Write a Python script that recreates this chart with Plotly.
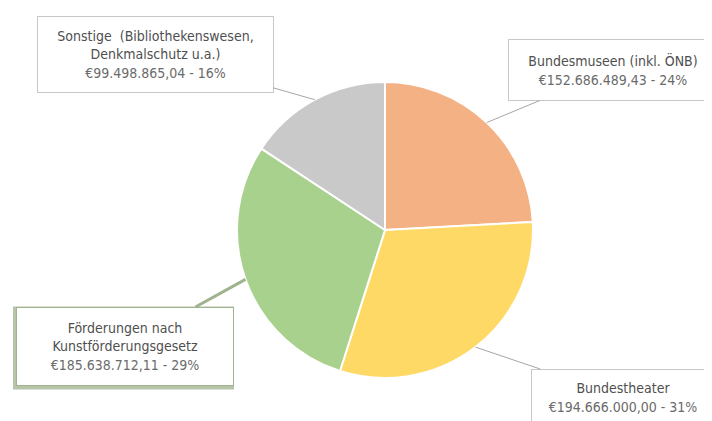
import math
import plotly.graph_objects as go

# ---- data ----
labels = ["Bundesmuseen (inkl. ÖNB)", "Bundestheater",
          "Förderungen nach Kunstförderungsgesetz",
          "Sonstige (Bibliothekenswesen, Denkmalschutz u.a.)"]
label_lines = ["Bundesmuseen (inkl. ÖNB)", "Bundestheater",
               "Förderungen nach<br>Kunstförderungsgesetz",
               "Sonstige\u00a0 (Bibliothekenswesen,<br>Denkmalschutz u.a.)"]
values = [152686489.43, 194666000.00, 185638712.11, 99498865.04]
colors = ["#F4B183", "#FFD966", "#A9D18E", "#C9C9C9"]

W, H = 712, 421
# pie geometry in pixels (page body has an 8px margin)
cx, cy, R = 377, 222, 148

# callout box centers (px) and sizes
box_cx = [605, 615, 117, 147]
box_cy = [62, 389, 338, 46]
box_w = [208, 182, 216, 235]
box_h = [60, 55, 77, 75]


def de_fmt(v):
    s = f"{v:,.2f}"
    return s.replace(",", "X").replace(".", ",").replace("X", ".")


total = sum(values)
fig = go.Figure()
fig.add_trace(go.Pie(
    labels=labels, values=values, sort=False, direction="clockwise", rotation=0,
    marker=dict(colors=colors, line=dict(color="white", width=2)),
    textinfo="none", showlegend=False, hoverinfo="label+value+percent",
    domain=dict(x=[(cx - R) / W, (cx + R) / W], y=[1 - (cy + R) / H, 1 - (cy - R) / H]),
))

annotations = []
shapes = []
cum = 0.0
for i, v in enumerate(values):
    mid = (cum + v / 2) / total * 2 * math.pi
    cum += v
    px = cx + R * math.sin(mid)
    py = cy - R * math.cos(mid)
    pct = round(v / total * 100)
    text = (f"{label_lines[i]}<br><span style='color:#6b6b6b'>€{de_fmt(v)} - {pct}%</span>")
    green = (i == 2)
    if green:
        # soft shadow behind the box
        x0 = box_cx[i] - box_w[i] / 2 - 4
        x1 = box_cx[i] + box_w[i] / 2 + 1
        y0 = box_cy[i] - box_h[i] / 2 - 1
        y1 = box_cy[i] + box_h[i] / 2 + 5
        shapes.append(dict(type="rect", xref="paper", yref="paper",
                           x0=x0 / W, x1=x1 / W, y0=1 - y1 / H, y1=1 - y0 / H,
                           fillcolor="#B7C4AA", line=dict(width=0), layer="below"))
    annotations.append(dict(
        x=px / W, y=1 - py / H, xref="paper", yref="paper",
        ax=box_cx[i] - px, ay=box_cy[i] - py,
        text=text, showarrow=True, arrowhead=0,
        arrowcolor="#9FB48E" if green else "#A6A6A6",
        arrowwidth=3 if green else 1,
        bgcolor="white", bordercolor="#9FB48E" if green else "#C8C8C8",
        borderwidth=1, borderpad=0,
        width=box_w[i], height=box_h[i], align="center", valign="middle",
        font=dict(family="Liberation Sans Narrow, DejaVu Sans Condensed, sans-serif",
                  size=14, color="#4f4f4f"),
    ))

fig.update_layout(
    width=W, height=H, margin=dict(l=0, r=0, t=0, b=0),
    paper_bgcolor="white", plot_bgcolor="white",
    annotations=annotations, shapes=shapes,
)
fig.write_html("out.html")
